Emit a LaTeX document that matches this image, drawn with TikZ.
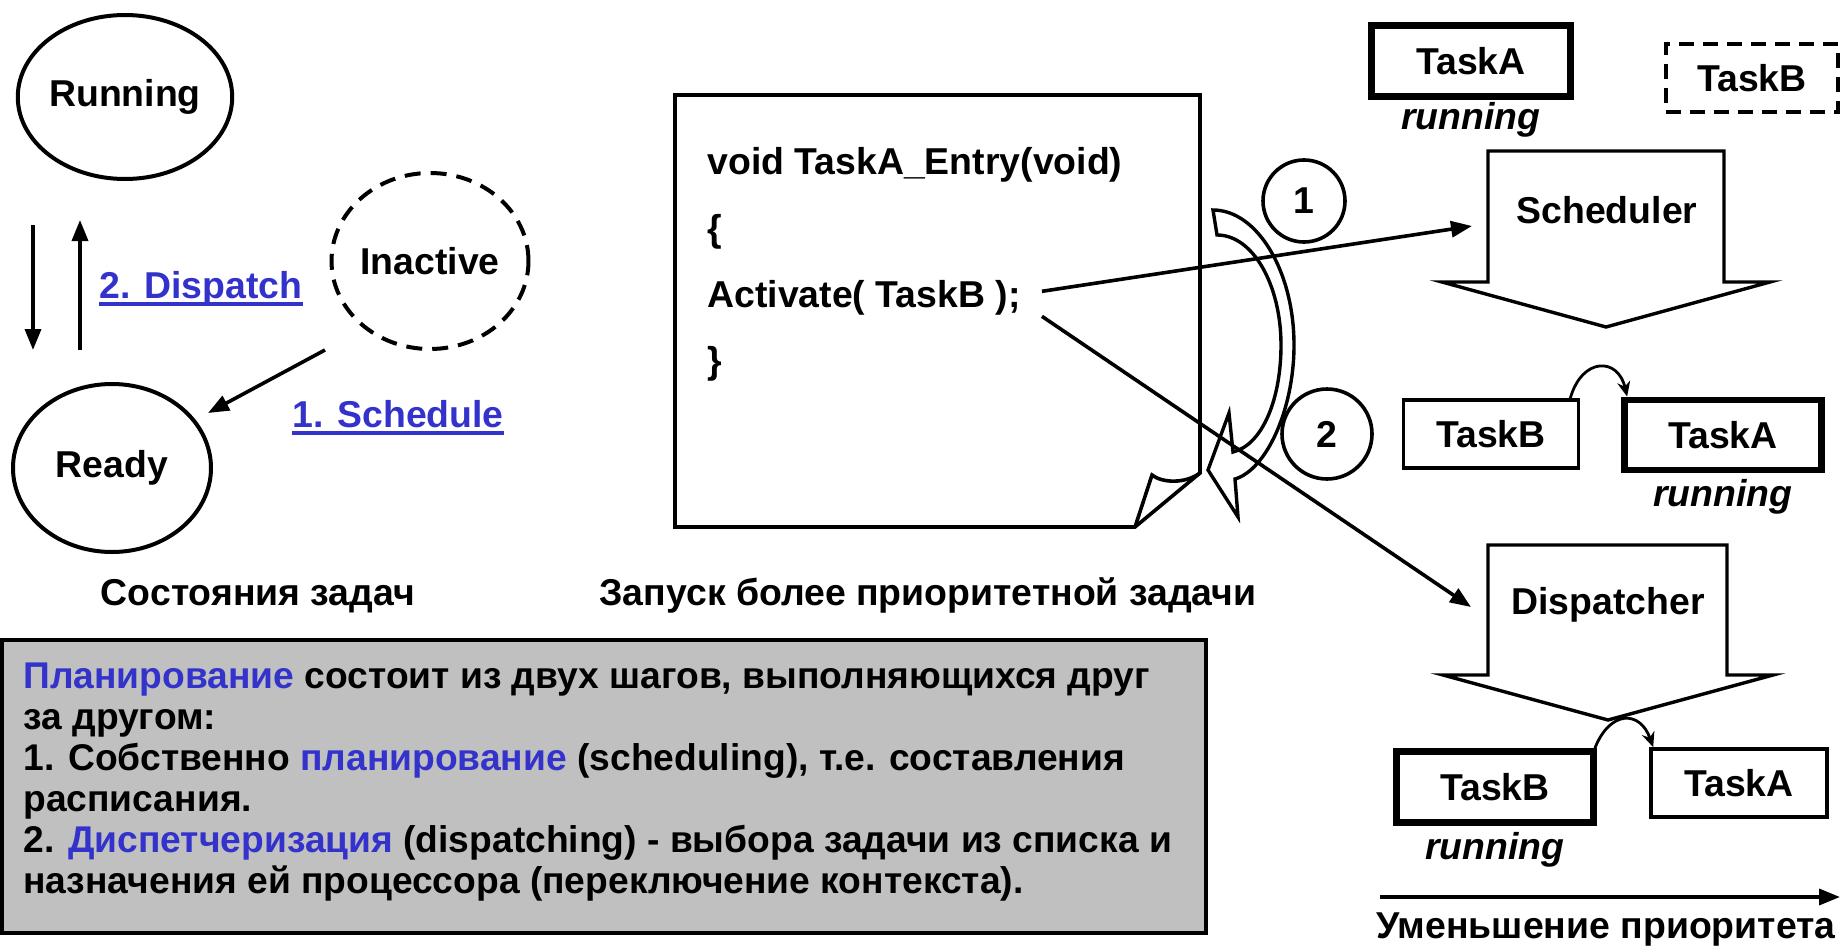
\documentclass[tikz,border=0pt]{standalone}
\usepackage{fontspec}
\setmainfont{Liberation Sans}
\usetikzlibrary{arrows.meta,positioning,shapes.geometric}

\definecolor{linkblue}{RGB}{51,51,204}
\definecolor{notegray}{RGB}{192,192,192}

\tikzset{
	lbl/.style={font=\bfseries\fontsize{18.7}{21}\selectfont, inner sep=0pt},
	runlbl/.style={font=\bfseries\itshape\fontsize{18.7}{21}\selectfont, inner sep=0pt},
	state/.style={ellipse, draw, line width=2pt, lbl},
	task/.style={draw, line width=1.8pt, lbl},
	runtask/.style={task, line width=3.4pt},
	num/.style={circle, draw, line width=1.8pt, lbl},
	arr/.style={line width=1.8pt, -{Triangle[length=10.5pt,width=8pt]}},
	hop/.style={line width=1.4pt, -{Stealth[length=7.5pt,width=6.5pt]}},
	block/.style={draw, line width=1.7pt, fill=white, line join=miter},
	link/.style={lbl, text=linkblue, anchor=base west},
	uline/.style={linkblue, line width=1.8pt},
}

\begin{document}
\begin{tikzpicture}[x=0.5pt, y=-0.5pt]
	\useasboundingbox (0,0) rectangle (1842,947);
	
	\node[state, minimum width=100pt, minimum height=82pt] (running) at (125,97) {Running};
	\node[state, minimum width=99pt, minimum height=84pt] (ready) at (112,468) {Ready};
	\node[state, dash pattern=on 8pt off 5pt, minimum width=97pt, minimum height=88pt] (inactive) at (430,261) {Inactive};
	
	\coordinate (d1) at (33,225);
	\coordinate (d2) at (33,350);
	\coordinate (u1) at (80,350);
	\coordinate (u2) at (80,220);
	\draw[arr] (d1) -- (d2);
	\draw[arr] (u1) -- (u2);
	
	\node[link] (dispatch) at (99,298) {2. Dispatch};
	\draw[uline] ([yshift=-3pt]dispatch.base west) -- ([yshift=-3pt]dispatch.base east);
	
	\coordinate (s1) at (325,350);
	\coordinate (s2) at (208,413);
	\draw[arr] (s1) -- (s2);
	\node[link] (schedule) at (292,427) {1. Schedule};
	\draw[uline] ([yshift=-3pt]schedule.base west) -- ([yshift=-3pt]schedule.base east);
	
	\node[lbl, anchor=base] (states) at (258,605) {Состояния задач};
	
	\draw[line width=1.8pt, line join=miter] (675,95) -- (1200,95) -- (1200,473) coordinate (fold) -- (1135,527) -- (675,527) -- cycle;
	\draw[line width=1.8pt] (fold) .. controls (1185,484) and (1162,483) .. (1152,475) -- (1135,527);
	
	\node[lbl, anchor=base west] (code1) at (707,175) {void TaskA\_Entry(void)};
	\node[lbl, anchor=base west] (code2) at (707,241) {\{};
	\node[lbl, anchor=base west] (code3) at (707,307) {Activate( TaskB );};
	\node[lbl, anchor=base west] (code4) at (707,373) {\}};
	
	\node[lbl, anchor=base] (launch) at (928,605) {Запуск более приоритетной задачи};
	
	\node[num, minimum size=41pt] (one) at (1304,201) {1};
	\node[num, minimum size=45pt] (two) at (1327,434) {2};
	
	\draw[block] (1213,210) .. controls (1257,210) and (1294,271) .. (1294,345) .. controls (1294,410) and (1266,470) .. (1235,479) -- (1238,517) -- (1208,470) -- (1229,413) -- (1233,452) .. controls (1262,445) and (1281,400) .. (1281,345) .. controls (1281,285) and (1253,235) .. (1217,235) -- cycle;
	
	\node[runtask, minimum width=99.5pt, minimum height=35.5pt] (topA) at (1471,61) {TaskA};
	\node[runlbl, below=1pt of topA] (topArun) {running};
	\node[task, dash pattern=on 7.5pt off 4.5pt, minimum width=86pt, minimum height=34pt] (topB) at (1752,78) {TaskB};
	
	\draw[block] (1488,151) -- (1724,151) -- (1724,282) -- (1770,282) -- (1606,327) -- (1442,282) -- (1488,282) -- cycle;
	\node[lbl] (scheduler) at (1607,210) {Scheduler};
	
	\node[task, minimum width=87.5pt, minimum height=34pt] (midB) at (1491,434) {TaskB};
	\node[runtask, minimum width=98.5pt, minimum height=35pt] (midA) at (1723,435) {TaskA};
	\node[runlbl, below=3pt of midA] (midArun) {running};
	\draw[hop] ([xshift=-5pt]midB.north east) .. controls (1582,357) and (1618,357) .. ([xshift=3pt]midA.north west);
	
	\draw[block] (1488,545) -- (1727,545) -- (1727,675) -- (1773,675) -- (1608,720) -- (1443,675) -- (1488,675) -- cycle;
	\node[lbl] (dispatcher) at (1608,605) {Dispatcher};
	
	\node[runtask, minimum width=98.5pt, minimum height=35.5pt] (botB) at (1495,787) {TaskB};
	\node[task, minimum width=88pt, minimum height=34pt] (botA) at (1739,783) {TaskA};
	\node[runlbl, below=3pt of botB] (botBrun) {running};
	\draw[hop] ([xshift=-1pt]botB.north east) .. controls (1610,710) and (1640,710) .. ([xshift=2pt]botA.north west);
	
	\coordinate (act1) at ([shift={(21,-6)}]code3.east);
	\coordinate (act2) at ([shift={(21,19)}]code3.east);
	\coordinate (schedin) at (1472,226);
	\coordinate (dispin) at (1471,607);
	\draw[arr] (act1) -- (schedin);
	\draw[arr] (act2) -- (dispin);
	
	\coordinate (p1) at (1380,897);
	\coordinate (p2) at (1840,897);
	\draw[arr] (p1) -- (p2);
	\node[lbl, anchor=base] (prio) at (1606,938) {Уменьшение приоритета};
	
	\node[draw, line width=2.2pt, fill=notegray, minimum width=602pt, minimum height=146.5pt, inner sep=0pt] (note) at (604,786.5) {};
	\node[anchor=north west, inner sep=0pt, align=left, font=\bfseries\fontsize{18.6}{20.5}\selectfont] (notetext) at (23,662) {{\color{linkblue}Планирование} состоит из двух шагов, выполняющихся друг\\
		за другом:\\
		1. Собственно {\color{linkblue}планирование} (scheduling), т.е. составления\\
		расписания.\\
		2. {\color{linkblue}Диспетчеризация} (dispatching) - выбора задачи из списка и\\
		назначения ей процессора (переключение контекста).};
\end{tikzpicture}
\end{document}
